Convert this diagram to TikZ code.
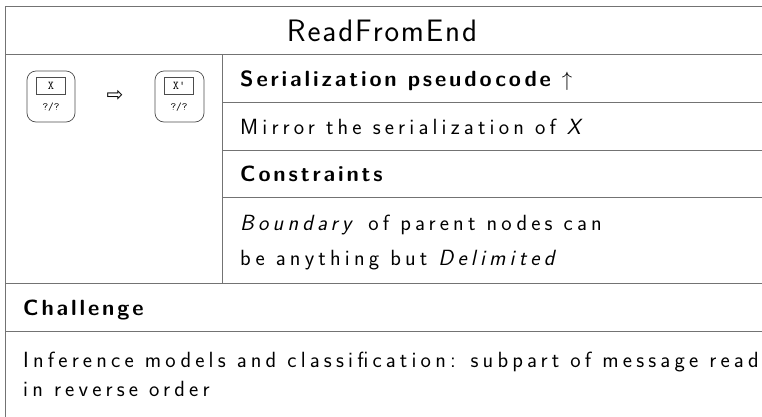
\documentclass[tikz,border=0pt]{standalone}
\usepackage{fontspec}
\newfontfamily\dejavu{DejaVu Sans}
\newfontfamily\spsans[LetterSpace=19]{Latin Modern Sans}
\newfontfamily\bsans[LetterSpace=13]{Latin Modern Sans}
\newfontfamily\tsans[LetterSpace=6]{Latin Modern Sans}
\begin{document}
\begin{tikzpicture}[x=1pt,y=-1pt,
  rule/.style={draw=black!55,line width=1pt},
  txt/.style={anchor=base west,inner sep=0pt,font=\spsans\fontsize{22}{22}\selectfont},
  hdr/.style={txt,font=\bsans\bfseries\fontsize{22}{22}\selectfont},
  sym/.style={draw=black!70,line width=0.7pt,rounded corners=9pt},
  lbl/.style={draw=black!70,line width=0.7pt,inner sep=0pt,minimum width=29pt,minimum height=17pt,font=\ttfamily\fontsize{12}{12}\selectfont},
  small/.style={inner sep=0pt,font=\ttfamily\fontsize{11}{11}\selectfont}]
\useasboundingbox (0,0) rectangle (762,416);
% grid
\draw[rule] (5,6) -- (770,6);
\draw[rule] (5,6) -- (5,420);
\draw[rule] (5,54) -- (770,54);
\draw[rule] (222,54) -- (222,283);
\draw[rule] (222,102) -- (770,102);
\draw[rule] (222,150) -- (770,150);
\draw[rule] (222,197) -- (770,197);
\draw[rule] (5,283) -- (770,283);
\draw[rule] (5,331) -- (770,331);
% title
\node[inner sep=0pt,font=\tsans\fontsize{31}{31}\selectfont] (title) at (382,31) {ReadFromEnd};
% symbols
\draw[sym] (27,71) rectangle (75,122);
\node[lbl] (x1) at (51,86) {X};
\node[small] (q1) at (51,107) {?/?};
\node[inner sep=0pt,font=\dejavu\fontsize{20}{20}\selectfont] (arr) at (115,96) {⇨};
\draw[sym] (155,71) rectangle (204,122);
\node[lbl] (x2) at (179,86) {X'};
\node[small] (q2) at (179,107) {?/?};
% right column
\node[hdr] (h1) at (240,86) {Serialization pseudocode $\uparrow$};
\node[txt] (t1) at (240,134) {Mirror the serialization of \textit{X}};
\node[hdr] (h2) at (240,181) {Constraints};
\node[txt] (t2a) at (240,230) {\textit{Boundary} of parent nodes can};
\node[txt] (t2b) at (240,265) {be anything but \textit{Delimited}};
% bottom
\node[hdr] (h3) at (23,315) {Challenge};
\node[txt] (t3a) at (23,367) {Inference models and classification: subpart of message read};
\node[txt] (t3b) at (23,396) {in reverse order};
\end{tikzpicture}
\end{document}
